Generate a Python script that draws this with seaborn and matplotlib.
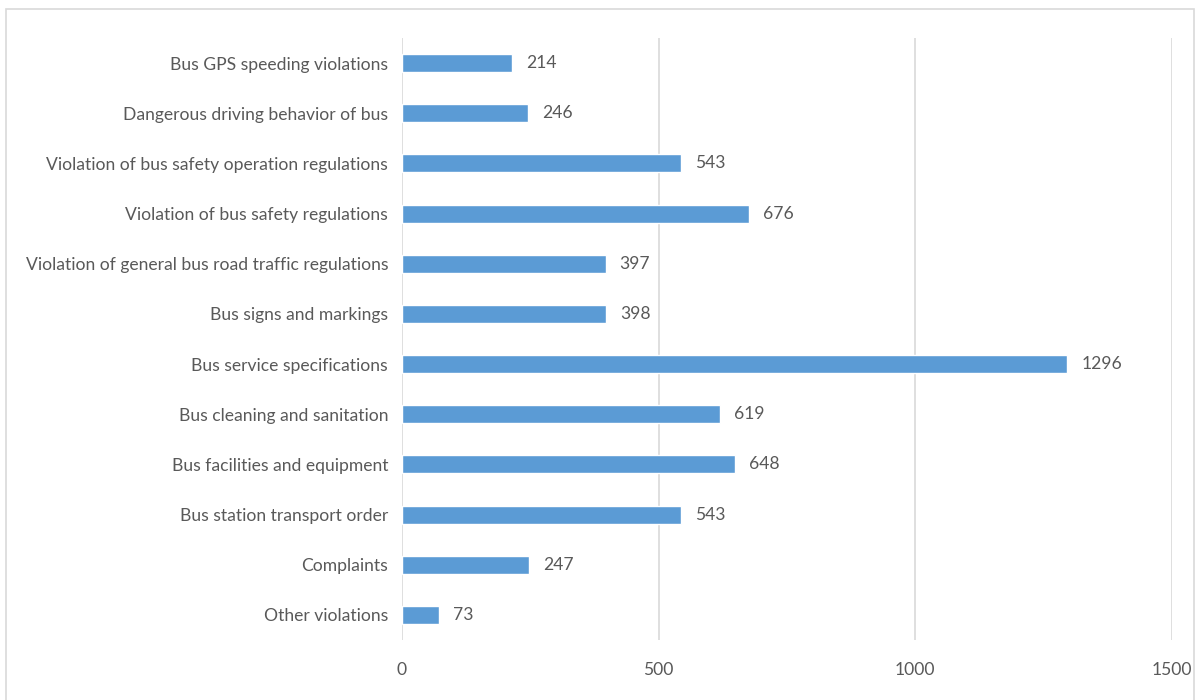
import matplotlib
matplotlib.use("Agg")
import matplotlib.pyplot as plt
import seaborn as sns
import pandas as pd
from matplotlib.patches import Rectangle

categories = [
    "Bus GPS speeding violations",
    "Dangerous driving behavior of bus",
    "Violation of bus safety operation regulations",
    "Violation of bus safety regulations",
    "Violation of general bus road traffic regulations",
    "Bus signs and markings",
    "Bus service specifications",
    "Bus cleaning and sanitation",
    "Bus facilities and equipment",
    "Bus station transport order",
    "Complaints",
    "Other violations",
]
counts = [214, 246, 543, 676, 397, 398, 1296, 619, 648, 543, 247, 73]
x_ticks = [0, 500, 1000, 1500]

df = pd.DataFrame({"category": categories, "count": counts})

sns.set_theme(style="white")
plt.rcParams["font.family"] = ["Lato", "DejaVu Sans"]
text_color = "#595959"

fig = plt.figure(figsize=(11.97, 7.0), dpi=100)
ax = fig.add_axes([402 / 1197, 1 - 640 / 700, (1172 - 402) / 1197, (640 - 38) / 700])

sns.barplot(data=df, x="count", y="category", orient="h", color="#5B9BD5",
            saturation=1, width=0.36, ax=ax)

for patch, v in zip(ax.patches, counts):
    ax.annotate(f"{v}", (patch.get_width(), patch.get_y() + patch.get_height() / 2),
                xytext=(10, 0), textcoords="offset points", va="center", ha="left",
                fontsize=12.6, color=text_color)

ax.set_xlim(0, 1500)
ax.set_ylim(len(categories) - 0.5, -0.5)
ax.set_xticks(x_ticks)
ax.set_xticklabels([str(t) for t in x_ticks])
ax.xaxis.grid(True, color="#D9D9D9", linewidth=1.2)
ax.set_axisbelow(True)
ax.set_xlabel("")
ax.set_ylabel("")
for s in ax.spines.values():
    s.set_visible(False)
ax.tick_params(axis="x", length=0, pad=16, labelsize=12.6, labelcolor=text_color)
ax.tick_params(axis="y", length=0, pad=10, labelsize=12.6, labelcolor=text_color)

# outer chart frame
fig.patches.append(Rectangle((6 / 1197, -0.01), (1194 - 6) / 1197, 1 - 9 / 700 + 0.01,
                             transform=fig.transFigure, fill=False,
                             edgecolor="#D9D9D9", linewidth=1.2))

fig.savefig("out.png", dpi=100)
